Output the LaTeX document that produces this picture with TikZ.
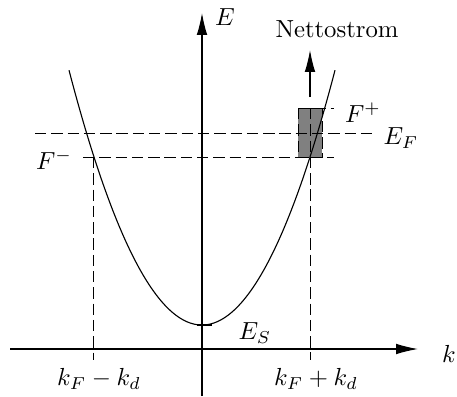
\documentclass[tikz,border=0pt]{standalone}
\usetikzlibrary{arrows.meta}
\begin{document}
\begin{tikzpicture}[x=0.405pt,y=-0.405pt,
  axis/.style={line width=0.45pt,-{Latex[length=8.9pt,width=4.3pt]}},
  guide/.style={line width=0.4pt,dash pattern=on 4.6pt off 2pt},
  lbl/.style={inner sep=0pt}]
\useasboundingbox (0,0) rectangle (457,396);
% key points
\coordinate (xs) at (10,349);
\coordinate (xe) at (418,349);
\coordinate (ys) at (202,396);
\coordinate (ye) at (202,13);
\coordinate (fm) at (93,157);
\coordinate (fmb) at (93,360);
\coordinate (fpb) at (310,360);
\coordinate (fpt) at (310,108);
\coordinate (efl) at (35,133);
\coordinate (efr) at (372,133);
\coordinate (fml) at (83,157);
\coordinate (fmr) at (334,157);
\coordinate (fptl) at (298,108);
\coordinate (fptr) at (334,108);
\coordinate (ns) at (310,97);
\coordinate (ne) at (310,50);
\coordinate (bl) at (197,325);
\coordinate (br) at (212,325);
% shaded box
\fill[gray] (298,108) rectangle (322,157);
\draw[guide] (298,108) rectangle (322,157);
% guide lines
\draw[guide] (efl) -- (efr);
\draw[guide] (fml) -- (fmr);
\draw[guide] (fptl) -- (fptr);
\draw[guide] (fm) -- (fmb);
\draw[guide] (fpt) -- (fpb);
% axes
\draw[axis] (xs) -- (xe);
\draw[axis] (ys) -- (ye);
% parabola
\draw[line width=0.45pt,domain=69:335,samples=120,smooth] plot (\x,{325-0.0144*(\x-202)*(\x-202)});
\draw[line width=0.9pt] (bl) -- (br);
% net current arrow
\draw[axis] (ns) -- (ne);
% labels
\node[lbl] (lE) at (225,17) {$E$};
\node[lbl] (lk) at (449,354) {$k$};
\node[lbl] (lN) at (337,29) {Nettostrom};
\node[lbl] (lFp) at (363,113) {$F^{+}$};
\node[lbl] (lEF) at (401,138) {$E_F$};
\node[lbl] (lFm) at (54,160) {$F^{-}$};
\node[lbl] (lES) at (255,333) {$E_S$};
\node[lbl] (lkm) at (99,379) {$k_F-k_d$};
\node[lbl] (lkp) at (316,379) {$k_F+k_d$};
\end{tikzpicture}
\end{document}
